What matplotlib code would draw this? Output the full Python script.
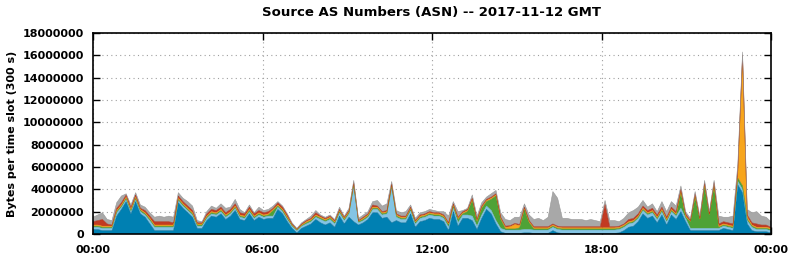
import numpy as np
import matplotlib
matplotlib.use("Agg")
import matplotlib.pyplot as plt

# Bytes per 10-minute step (millions), one value per slot, 00:00 -> 23:50
blue = [0.4, 0.4, 0.3, 0.3, 0.3, 1.6,
        2.2, 2.9, 1.8, 2.9, 1.8, 1.5,
        0.9, 0.3, 0.3, 0.3, 0.3, 0.3,
        2.8, 2.3, 1.9, 1.5, 0.5, 0.5,
        1.2, 1.6, 1.5, 1.8, 1.3, 1.6,
        2.1, 1.3, 1.2, 1.8, 1.2, 1.5,
        1.3, 1.4, 1.4, 2.2, 1.8, 1.1,
        0.5, 0.1, 0.5, 0.7, 0.9, 1.3,
        1.0, 0.8, 1.0, 0.6, 1.6, 0.9,
        1.5, 1.1, 0.8, 1.0, 1.3, 1.9,
        1.9, 1.4, 1.5, 1.0, 1.2, 1.0,
        1.0, 1.8, 0.6, 1.1, 1.2, 1.4,
        1.3, 1.3, 1.1, 0.3, 2.0, 0.7,
        1.4, 1.4, 1.2, 0.4, 1.4, 2.2,
        1.8, 0.9, 0.2, 0.05, 0.05, 0.05,
        0.05, 0.1, 0.1, 0.05, 0.05, 0.05,
        0.05, 0.3, 0.1, 0.05, 0.05, 0.05,
        0.05, 0.05, 0.05, 0.05, 0.05, 0.05,
        0.05, 0.05, 0.05, 0.1, 0.3, 0.6,
        0.7, 1.1, 1.8, 1.4, 1.6, 1.0,
        1.7, 0.8, 1.7, 1.3, 2.0, 1.1,
        0.3, 0.3, 0.3, 0.3, 0.3, 0.3,
        0.3, 0.5, 0.4, 0.3, 4.4, 3.7,
        0.9, 0.3, 0.2, 0.2, 0.2, 0.1]

light_blue = [0.2, 0.2, 0.2, 0.2, 0.2, 0.3,
              0.2, 0.2, 0.2, 0.2, 0.2, 0.2,
              0.3, 0.3, 0.3, 0.3, 0.3, 0.3,
              0.2, 0.2, 0.2, 0.2, 0.2, 0.2,
              0.2, 0.2, 0.2, 0.2, 0.2, 0.2,
              0.2, 0.2, 0.2, 0.2, 0.2, 0.2,
              0.2, 0.2, 0.2, 0.2, 0.2, 0.2,
              0.2, 0.2, 0.2, 0.2, 0.2, 0.2,
              0.3, 0.3, 0.3, 0.3, 0.3, 0.3,
              0.3, 3.0, 0.2, 0.2, 0.2, 0.3,
              0.3, 0.3, 0.3, 3.1, 0.3, 0.3,
              0.3, 0.3, 0.3, 0.3, 0.3, 0.3,
              0.3, 0.3, 0.3, 0.3, 0.3, 0.3,
              0.3, 0.3, 0.4, 0.3, 0.3, 0.3,
              0.3, 0.3, 0.3, 0.3, 0.3, 0.3,
              0.3, 0.3, 0.3, 0.3, 0.3, 0.3,
              0.3, 0.3, 0.3, 0.3, 0.3, 0.3,
              0.3, 0.3, 0.3, 0.3, 0.3, 0.3,
              0.3, 0.3, 0.3, 0.3, 0.3, 0.3,
              0.3, 0.3, 0.3, 0.3, 0.3, 0.3,
              0.3, 0.3, 0.3, 0.3, 0.3, 0.3,
              0.2, 0.2, 0.2, 0.2, 0.2, 0.2,
              0.2, 0.2, 0.2, 0.2, 0.3, 0.3,
              0.3, 0.3, 0.2, 0.2, 0.2, 0.2]

green = [0.1, 0.1, 0.1, 0.1, 0.1, 0.1,
         0.1, 0.1, 0.1, 0.1, 0.1, 0.1,
         0.1, 0.1, 0.1, 0.1, 0.1, 0.1,
         0.1, 0.1, 0.1, 0.1, 0.1, 0.1,
         0.1, 0.1, 0.1, 0.1, 0.1, 0.1,
         0.1, 0.1, 0.1, 0.1, 0.1, 0.1,
         0.1, 0.1, 0.5, 0.1, 0.1, 0.1,
         0.05, 0.05, 0.05, 0.1, 0.1, 0.1,
         0.1, 0.1, 0.1, 0.1, 0.1, 0.1,
         0.1, 0.3, 0.1, 0.1, 0.1, 0.1,
         0.1, 0.1, 0.1, 0.2, 0.1, 0.1,
         0.1, 0.1, 0.1, 0.1, 0.1, 0.1,
         0.1, 0.1, 0.1, 0.2, 0.2, 0.3,
         0.1, 0.3, 1.4, 0.4, 0.6, 0.4,
         1.0, 2.2, 0.8, 0.1, 0.1, 0.1,
         0.2, 1.8, 0.6, 0.1, 0.1, 0.1,
         0.1, 0.1, 0.1, 0.1, 0.1, 0.1,
         0.1, 0.1, 0.1, 0.1, 0.1, 0.1,
         0.1, 0.1, 0.1, 0.1, 0.1, 0.1,
         0.1, 0.1, 0.1, 0.1, 0.1, 0.1,
         0.1, 0.1, 0.1, 0.1, 1.4, 0.1,
         0.6, 2.8, 0.8, 3.8, 1.2, 3.8,
         0.1, 0.1, 0.1, 0.1, 0.3, 0.3,
         0.1, 0.1, 0.1, 0.1, 0.1, 0.1]

orange = [0.1, 0.1, 0.1, 0.1, 0.1, 0.1,
          0.1, 0.1, 0.1, 0.1, 0.1, 0.1,
          0.1, 0.1, 0.1, 0.1, 0.1, 0.1,
          0.1, 0.1, 0.1, 0.1, 0.1, 0.1,
          0.1, 0.1, 0.1, 0.1, 0.1, 0.1,
          0.1, 0.1, 0.1, 0.1, 0.1, 0.1,
          0.1, 0.1, 0.1, 0.1, 0.1, 0.1,
          0.05, 0.05, 0.05, 0.1, 0.1, 0.1,
          0.1, 0.1, 0.1, 0.1, 0.1, 0.1,
          0.1, 0.1, 0.05, 0.1, 0.1, 0.1,
          0.1, 0.1, 0.1, 0.1, 0.1, 0.1,
          0.1, 0.1, 0.1, 0.1, 0.1, 0.1,
          0.1, 0.1, 0.1, 0.1, 0.1, 0.1,
          0.1, 0.1, 0.1, 0.1, 0.1, 0.1,
          0.1, 0.1, 0.1, 0.15, 0.2, 0.4,
          0.2, 0.1, 0.1, 0.1, 0.1, 0.1,
          0.1, 0.1, 0.1, 0.1, 0.1, 0.1,
          0.1, 0.1, 0.1, 0.1, 0.1, 0.1,
          0.1, 0.1, 0.1, 0.1, 0.1, 0.1,
          0.1, 0.1, 0.1, 0.1, 0.1, 0.1,
          0.1, 0.1, 0.1, 0.1, 0.1, 0.1,
          0.05, 0.1, 0.05, 0.1, 0.05, 0.1,
          0.1, 0.1, 0.1, 0.1, 0.3, 11.5,
          0.2, 0.1, 0.1, 0.1, 0.1, 0.1]

red = [0.3, 0.4, 0.6, 0.2, 0.1, 0.2,
       0.2, 0.2, 0.2, 0.2, 0.1, 0.2,
       0.2, 0.3, 0.3, 0.3, 0.3, 0.2,
       0.2, 0.2, 0.2, 0.2, 0.1, 0.1,
       0.2, 0.2, 0.2, 0.2, 0.2, 0.2,
       0.2, 0.2, 0.2, 0.2, 0.2, 0.2,
       0.2, 0.2, 0.1, 0.2, 0.2, 0.2,
       0.1, 0.05, 0.1, 0.1, 0.1, 0.2,
       0.1, 0.1, 0.1, 0.1, 0.1, 0.1,
       0.1, 0.1, 0.05, 0.1, 0.1, 0.2,
       0.1, 0.1, 0.1, 0.1, 0.1, 0.1,
       0.1, 0.1, 0.1, 0.1, 0.1, 0.1,
       0.1, 0.1, 0.1, 0.1, 0.1, 0.1,
       0.1, 0.1, 0.1, 0.1, 0.1, 0.1,
       0.1, 0.1, 0.1, 0.1, 0.1, 0.1,
       0.1, 0.1, 0.1, 0.1, 0.1, 0.1,
       0.1, 0.1, 0.1, 0.1, 0.1, 0.1,
       0.1, 0.1, 0.1, 0.1, 0.1, 0.1,
       2.1, 0.1, 0.1, 0.1, 0.1, 0.2,
       0.2, 0.2, 0.2, 0.2, 0.2, 0.2,
       0.2, 0.2, 0.2, 0.2, 0.2, 0.2,
       0.05, 0.2, 0.05, 0.2, 0.05, 0.2,
       0.2, 0.2, 0.2, 0.2, 0.4, 0.2,
       0.2, 0.2, 0.3, 0.2, 0.2, 0.1]

gray = [0.4, 0.5, 0.6, 0.4, 0.4, 0.5,
        0.6, 0.1, 0.2, 0.2, 0.3, 0.3,
        0.3, 0.4, 0.5, 0.4, 0.5, 0.5,
        0.3, 0.3, 0.4, 0.4, 0.2, 0.1,
        0.2, 0.3, 0.2, 0.3, 0.4, 0.2,
        0.4, 0.3, 0.1, 0.2, 0.1, 0.3,
        0.2, 0.2, 0.2, 0.1, 0.1, 0.1,
        0.1, 0.05, 0.1, 0.1, 0.2, 0.2,
        0.1, 0.1, 0.1, 0.1, 0.2, 0.1,
        0.2, 0.2, 0.2, 0.2, 0.2, 0.3,
        0.5, 0.5, 0.6, 0.2, 0.3, 0.3,
        0.4, 0.2, 0.2, 0.2, 0.2, 0.2,
        0.2, 0.1, 0.3, 0.6, 0.2, 0.5,
        0.1, 0.1, 0.3, 0.3, 0.3, 0.2,
        0.3, 0.3, 0.4, 0.6, 0.45, 0.55,
        0.65, 0.3, 0.5, 0.65, 0.75, 0.55,
        0.85, 2.9, 2.5, 0.75, 0.75, 0.65,
        0.65, 0.65, 0.55, 0.65, 0.55, 0.45,
        0.35, 0.55, 0.55, 0.4, 0.5, 0.6,
        0.7, 0.6, 0.5, 0.3, 0.4, 0.3,
        0.5, 0.5, 0.5, 0.5, 0.3, 0.2,
        0.2, 0.2, 0.2, 0.2, 0.2, 0.2,
        0.7, 0.4, 0.5, 0.7, 0.5, 0.3,
        0.5, 0.9, 1.1, 0.8, 0.7, 0.5]

layers = [blue, light_blue, green, orange, red, gray]
colors = ["#0080b2", "#84c4e4", "#4ea236", "#f7a51c", "#c23a22", "#a8a8a8"]
edges = ["#006a96", "#6cb2d6", "#438f2e", "#e39512", "#a8301b", "#979797"]

yticks = [0, 2000000, 4000000, 6000000, 8000000, 10000000,
          12000000, 14000000, 16000000, 18000000]
xtick_labels = ["00:00", "06:00", "12:00", "18:00", "00:00"]

minutes = np.linspace(0, 1440, len(blue))
data = np.array(layers) * 1e6

fig = plt.figure(figsize=(7.92, 2.59), dpi=100)
ax = fig.add_axes([93 / 792, 25 / 259, 678 / 792, 201 / 259])

ax.stackplot(minutes, data, colors=colors, linewidth=0)
tops = np.cumsum(data, axis=0)
for top, ec in zip(tops, edges):
    ax.plot(minutes, top, color=ec, linewidth=0.4)

ax.set_xlim(0, 1440)
ax.set_ylim(0, 18000000)
ax.set_yticks(yticks)
ax.set_yticklabels([str(v) for v in yticks])
ax.set_xticks([0, 360, 720, 1080, 1440])
ax.set_xticklabels(xtick_labels)

ax.grid(True, color="#a0a0a0", linestyle=(0, (1, 3)), linewidth=0.8)
ax.set_axisbelow(True)
ax.tick_params(direction="in", length=5, width=1, top=True, right=True,
               labelsize=8)
ax.tick_params(axis="x", pad=8)
ax.tick_params(axis="y", pad=6.5)
for lab in ax.get_xticklabels() + ax.get_yticklabels():
    lab.set_fontweight("bold")
for s in ax.spines.values():
    s.set_linewidth(1.2)

ax.set_ylabel("Bytes per time slot (300 s)", fontsize=8, fontweight="bold", labelpad=4)
ax.set_title("Source AS Numbers (ASN) -- 2017-11-12 GMT", fontsize=9.5,
             fontweight="bold", pad=12)

fig.savefig("out.png", dpi=100)
